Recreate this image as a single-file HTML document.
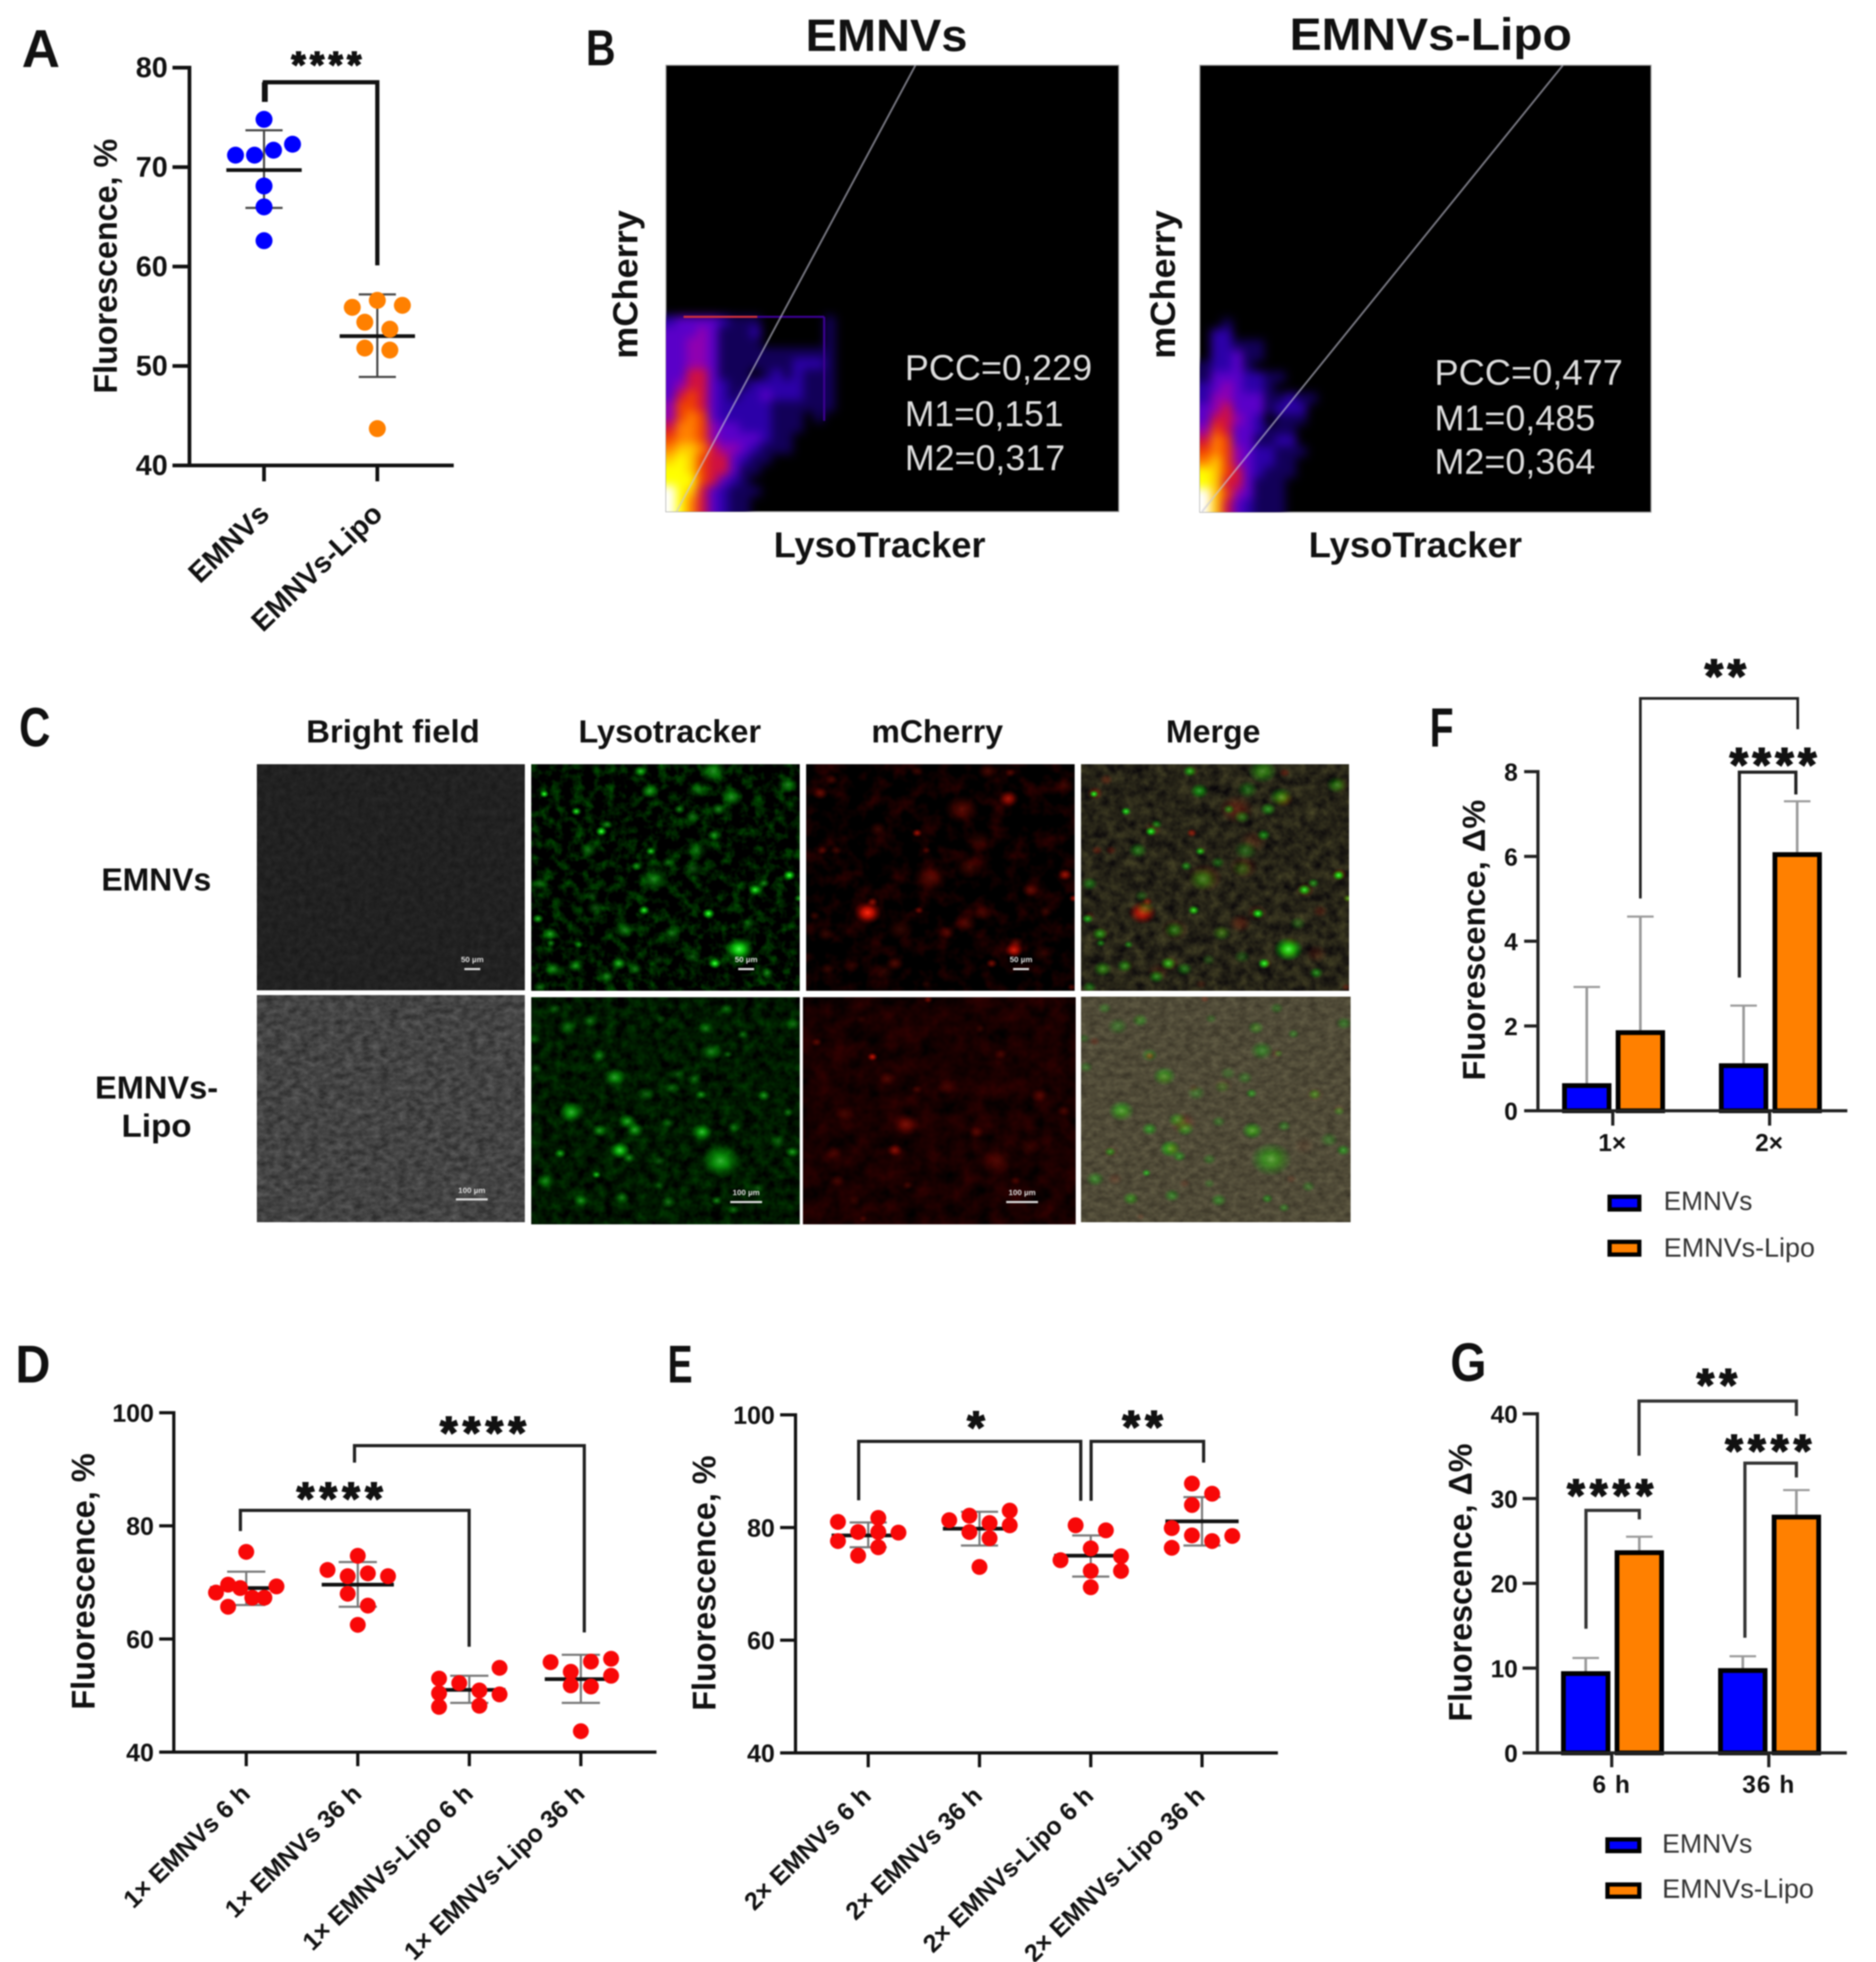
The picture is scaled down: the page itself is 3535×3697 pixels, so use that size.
<!DOCTYPE html>
<html lang="en">
<head>
<meta charset="utf-8">
<title>EMNVs and EMNVs-Lipo fluorescence figure</title>
<style>
html,body{margin:0;padding:0;background:#fff}
svg{display:block;filter:blur(1.2px)}
text{font-family:"Liberation Sans",Arial,sans-serif;fill:#111}
.b{font-weight:bold}
.l{fill:#333}
.w{fill:#ddd}
</style>
</head>
<body>
<svg id="figure" xmlns="http://www.w3.org/2000/svg" width="3535" height="3697" viewBox="0 0 3535 3697">
<defs>
<filter id="heat-blur" x="-10%" y="-10%" width="120%" height="120%" color-interpolation-filters="sRGB"><feGaussianBlur stdDeviation="9"/></filter>
<filter id="noise-green-top" x="0" y="0" width="1" height="1" color-interpolation-filters="sRGB"><feTurbulence type="fractalNoise" baseFrequency="0.05" numOctaves="3" seed="3"/><feColorMatrix values="0 0 0 0 0  0.7 0 0 0 -0.3  0 0 0 0 0  0 0 0 0 1"/></filter>
<filter id="noise-green-bottom" x="0" y="0" width="1" height="1" color-interpolation-filters="sRGB"><feTurbulence type="fractalNoise" baseFrequency="0.05" numOctaves="3" seed="8"/><feColorMatrix values="0 0 0 0 0  0.35 0 0 0 -0.08  0 0 0 0 0  0 0 0 0 1"/></filter>
<filter id="noise-red-top" x="0" y="0" width="1" height="1" color-interpolation-filters="sRGB"><feTurbulence type="fractalNoise" baseFrequency="0.03" numOctaves="3" seed="5"/><feColorMatrix values="0.4 0 0 0 -0.17  0 0 0 0 0  0 0 0 0 0  0 0 0 0 1"/></filter>
<filter id="noise-red-bottom" x="0" y="0" width="1" height="1" color-interpolation-filters="sRGB"><feTurbulence type="fractalNoise" baseFrequency="0.03" numOctaves="3" seed="11"/><feColorMatrix values="0.25 0 0 0 -0.03  0 0 0 0 0  0 0 0 0 0  0 0 0 0 1"/></filter>
<filter id="noise-gray-top" x="0" y="0" width="1" height="1" color-interpolation-filters="sRGB"><feTurbulence type="fractalNoise" baseFrequency="0.08" numOctaves="3" seed="2"/><feColorMatrix values="0.08 0 0 0 0.09  0.08 0 0 0 0.09  0.08 0 0 0 0.09  0 0 0 0 1"/></filter>
<filter id="noise-gray-bottom" x="0" y="0" width="1" height="1" color-interpolation-filters="sRGB"><feTurbulence type="fractalNoise" baseFrequency="0.06 0.09" numOctaves="3" seed="4"/><feColorMatrix values="0.25 0 0 0 0.14  0.25 0 0 0 0.14  0.25 0 0 0 0.14  0 0 0 0 1"/></filter>
<filter id="noise-merge-top" x="0" y="0" width="1" height="1" color-interpolation-filters="sRGB"><feTurbulence type="fractalNoise" baseFrequency="0.05" numOctaves="3" seed="7"/><feColorMatrix values="0.3 0 0 0 0  0.3 0 0 0 -0.01  0.14 0 0 0 0.02  0 0 0 0 1"/></filter>
<filter id="noise-merge-bottom" x="0" y="0" width="1" height="1" color-interpolation-filters="sRGB"><feTurbulence type="fractalNoise" baseFrequency="0.06 0.09" numOctaves="3" seed="9"/><feColorMatrix values="0.2 0 0 0 0.21  0.2 0 0 0 0.19  0.15 0 0 0 0.14  0 0 0 0 1"/></filter>
<radialGradient id="spot-green"><stop offset="0" stop-color="#50ff50"/><stop offset=".35" stop-color="#10e010" stop-opacity=".85"/><stop offset="1" stop-color="#00a000" stop-opacity="0"/></radialGradient>
<radialGradient id="spot-red"><stop offset="0" stop-color="#ff2a10"/><stop offset=".4" stop-color="#e01000" stop-opacity=".8"/><stop offset="1" stop-color="#900000" stop-opacity="0"/></radialGradient>
<clipPath id="clip-plot-1"><rect x="1255" y="123" width="853" height="841"/></clipPath>
<clipPath id="clip-plot-2"><rect x="2261" y="123" width="850" height="842"/></clipPath>
</defs>

<g>
<text class="b" x="41" y="126" font-size="100" textLength="72" lengthAdjust="spacingAndGlyphs">A</text>
<text class="b" x="1104" y="123" font-size="96" textLength="56" lengthAdjust="spacingAndGlyphs">B</text>
<text class="b" x="36" y="1406" font-size="104" textLength="59" lengthAdjust="spacingAndGlyphs">C</text>
<text class="b" x="29" y="2605" font-size="100" textLength="66" lengthAdjust="spacingAndGlyphs">D</text>
<text class="b" x="1258" y="2605" font-size="100" textLength="47" lengthAdjust="spacingAndGlyphs">E</text>
<text class="b" x="2694" y="1407" font-size="104" textLength="45" lengthAdjust="spacingAndGlyphs">F</text>
<text class="b" x="2733" y="2602" font-size="102" textLength="68" lengthAdjust="spacingAndGlyphs">G</text>
</g>

<g id="panel-a">
<text class="b" transform="translate(220,501.6) rotate(-90)" text-anchor="middle" font-size="62" textLength="480" lengthAdjust="spacingAndGlyphs">Fluorescence, %</text>
</g>

<g id="panel-b">
<text class="b" x="1518" y="96" font-size="85" textLength="305" lengthAdjust="spacingAndGlyphs">EMNVs</text>
<text class="b" x="2430" y="94" font-size="85" textLength="532" lengthAdjust="spacingAndGlyphs">EMNVs-Lipo</text>
<rect x="1255" y="123" width="853" height="841" fill="#000" stroke="#999" stroke-width="2"/>
<rect x="2261" y="123" width="850" height="842" fill="#000" stroke="#999" stroke-width="2"/>
<g clip-path="url(#clip-plot-1)"><g id="heat-1" filter="url(#heat-blur)"></g>
<line x1="1288" y1="597" x2="1427" y2="597" stroke="#d0303a" stroke-width="4"/>
<line x1="1427" y1="597" x2="1553" y2="597" stroke="#3a0090" stroke-width="4"/>
<line x1="1553" y1="597" x2="1553" y2="793" stroke="#3a0090" stroke-width="4"/>
</g>
<g clip-path="url(#clip-plot-2)"><g id="heat-2" filter="url(#heat-blur)"></g></g>
<line x1="1725" y1="123" x2="1275" y2="964" stroke="#c8c8d8" stroke-opacity=".6" stroke-width="3.5"/>
<line x1="2945" y1="123" x2="2265" y2="964" stroke="#c8c8d8" stroke-opacity=".6" stroke-width="3.5"/>
<g>
<text class="w" x="1705" y="716" font-size="68" textLength="353" lengthAdjust="spacingAndGlyphs">PCC=0,229</text>
<text class="w" x="1705" y="803" font-size="68" textLength="299" lengthAdjust="spacingAndGlyphs">M1=0,151</text>
<text class="w" x="1705" y="886" font-size="68" textLength="302" lengthAdjust="spacingAndGlyphs">M2=0,317</text>
</g>
<g>
<text class="w" x="2703" y="725" font-size="68" textLength="355" lengthAdjust="spacingAndGlyphs">PCC=0,477</text>
<text class="w" x="2703" y="811" font-size="68" textLength="303" lengthAdjust="spacingAndGlyphs">M1=0,485</text>
<text class="w" x="2703" y="893" font-size="68" textLength="303" lengthAdjust="spacingAndGlyphs">M2=0,364</text>
</g>
<text class="b" x="1458" y="1050" font-size="68" textLength="399" lengthAdjust="spacingAndGlyphs">LysoTracker</text>
<text class="b" x="2466" y="1050" font-size="68" textLength="402" lengthAdjust="spacingAndGlyphs">LysoTracker</text>
<text class="b" transform="translate(1201,536) rotate(-90)" text-anchor="middle" font-size="66" textLength="280" lengthAdjust="spacingAndGlyphs">mCherry</text>
<text class="b" transform="translate(2214,536) rotate(-90)" text-anchor="middle" font-size="66" textLength="280" lengthAdjust="spacingAndGlyphs">mCherry</text>
</g>

<g id="panel-c">
<text class="b" x="577" y="1399" font-size="60" textLength="327" lengthAdjust="spacingAndGlyphs">Bright field</text>
<text class="b" x="1090" y="1399" font-size="60" textLength="344" lengthAdjust="spacingAndGlyphs">Lysotracker</text>
<text class="b" x="1642" y="1399" font-size="60" textLength="248" lengthAdjust="spacingAndGlyphs">mCherry</text>
<text class="b" x="2197" y="1399" font-size="60" textLength="178" lengthAdjust="spacingAndGlyphs">Merge</text>
<text class="b" x="191" y="1678" font-size="60" textLength="207" lengthAdjust="spacingAndGlyphs">EMNVs</text>
<text class="b" x="179" y="2070" font-size="60" textLength="232" lengthAdjust="spacingAndGlyphs">EMNVs-</text>
<text class="b" x="229" y="2142" font-size="60" textLength="132" lengthAdjust="spacingAndGlyphs">Lipo</text>
<g id="micrographs"></g>
</g>

<g id="panel-d">
<text class="b" transform="translate(178,2980) rotate(-90)" text-anchor="middle" font-size="62" textLength="483" lengthAdjust="spacingAndGlyphs">Fluorescence, %</text>
</g>
<g id="panel-e">
<text class="b" transform="translate(1348,2983) rotate(-90)" text-anchor="middle" font-size="62" textLength="481" lengthAdjust="spacingAndGlyphs">Fluorescence, %</text>
</g>

<g id="panel-f">
<text class="b" transform="translate(2798,1771.5) rotate(-90)" text-anchor="middle" font-size="60" textLength="529" lengthAdjust="spacingAndGlyphs">Fluorescence, Δ%</text>
<g>
<rect x="3033" y="2255" width="56" height="24" fill="#0000ff" stroke="#000" stroke-width="8"/>
<text class="l" x="3135" y="2280" font-size="50" textLength="167" lengthAdjust="spacingAndGlyphs">EMNVs</text>
<rect x="3033" y="2340" width="56" height="24" fill="#ff8000" stroke="#000" stroke-width="8"/>
<text class="l" x="3135" y="2368" font-size="50" textLength="285" lengthAdjust="spacingAndGlyphs">EMNVs-Lipo</text>
</g>
</g>

<g id="panel-g">
<text class="b" transform="translate(2773,2982) rotate(-90)" text-anchor="middle" font-size="62" textLength="524" lengthAdjust="spacingAndGlyphs">Fluorescence, Δ%</text>
<g>
<rect x="3029" y="3466" width="60" height="22" fill="#0000ff" stroke="#000" stroke-width="8"/>
<text class="l" x="3132" y="3491" font-size="50" textLength="170" lengthAdjust="spacingAndGlyphs">EMNVs</text>
<rect x="3029" y="3551" width="60" height="23" fill="#ff8000" stroke="#000" stroke-width="8"/>
<text class="l" x="3132" y="3576" font-size="50" textLength="286" lengthAdjust="spacingAndGlyphs">EMNVs-Lipo</text>
</g>
</g>
</svg>

<script>
// ---------- Panel A data ----------
const aCategories = ['EMNVs', 'EMNVs-Lipo'];
const aTicks = [40, 50, 60, 70, 80];
const aEmnvsValues = [74.8, 71.2, 71.2, 71.7, 72.3, 68.1, 66.0, 62.6];
const aEmnvsSlots = [0, -3, -1, 1, 3, 0, 0, 0];
const aLipoValues = [55.9, 56.6, 56.1, 54.4, 53.7, 51.8, 51.6, 43.7];
const aLipoSlots = [-2, 0, 2, -1, 1, -1, 1, 0];
const aMeans = [69.7, 53.0];
const aSdHigh = [73.7, 57.2];
const aSdLow = [65.9, 48.9];

// ---------- Panel D data ----------
const dCategories = ['1× EMNVs 6 h', '1× EMNVs 36 h', '1× EMNVs-Lipo 6 h', '1× EMNVs-Lipo 36 h'];
const dTicks = [40, 60, 80, 100];
const dValues1 = [75.4, 68.2, 69.6, 69.0, 69.3, 67.3, 67.3, 65.7];
const dSlots1 = [0, -3, -1.8, -0.6, 3, 0.6, 1.8, -1.8];
const dValues2 = [74.7, 72.2, 71.1, 71.6, 71.1, 68.0, 65.9, 62.5];
const dSlots2 = [0, -3, -1, 1, 3, -1, 1, 0];
const dValues3 = [53.0, 52.2, 54.9, 50.4, 50.9, 50.2, 48.0, 48.2];
const dSlots3 = [-3, -1, 3, -3, 1, 3, -3, 1];
const dValues4 = [55.9, 56.0, 56.5, 54.2, 53.5, 51.8, 51.6, 43.7];
const dSlots4 = [-3, 1, 3, -1, 3, -1, 1, 0];
const dMeans = [69.0, 69.6, 51.0, 52.9];
const dSdHigh = [71.9, 73.6, 53.5, 57.2];
const dSdLow = [66.0, 65.7, 48.7, 48.7];

// ---------- Panel E data ----------
const eCategories = ['2× EMNVs 6 h', '2× EMNVs 36 h', '2× EMNVs-Lipo 6 h', '2× EMNVs-Lipo 36 h'];
const eTicks = [40, 60, 80, 100];
const eValues1 = [81.0, 81.7, 79.2, 79.2, 79.1, 77.6, 76.5, 75.0];
const eSlots1 = [-3, 1, -1, 1, 3, -3, 1, -1];
const eValues2 = [81.3, 82.1, 83.0, 80.8, 80.4, 79.2, 78.1, 73.0];
const eSlots2 = [-3, -1, 3, 1, 3, -1, 1, 0];
const eValues3 = [80.4, 79.5, 76.3, 74.2, 74.9, 72.3, 72.3, 69.4];
const eSlots3 = [-1.5, 1.5, 0, -3, 3, 0, 3, 0];
const eValues4 = [87.8, 86.0, 84.0, 79.9, 78.6, 78.5, 77.6, 76.4];
const eSlots4 = [-1, 1, -1, -3, -1, 3, 1, -3];
const eMeans = [78.6, 79.8, 75.0, 81.1];
const eSdHigh = [80.9, 82.8, 78.6, 85.4];
const eSdLow = [76.5, 76.8, 71.3, 76.8];

// ---------- Panel F data ----------
const fCategories = ['1×', '2×'];
const fTicks = [0, 2, 4, 6, 8];
const fEmnvs = [0.65, 1.12];
const fLipo = [1.9, 6.1];
const fEmnvsErrorTop = [2.92, 2.48];
const fLipoErrorTop = [4.58, 7.3];

// ---------- Panel G data ----------
const gCategories = ['6 h', '36 h'];
const gTicks = [0, 10, 20, 30, 40];
const gEmnvs = [9.64, 10.0];
const gLipo = [23.9, 28.1];
const gEmnvsErrorTop = [11.2, 11.4];
const gLipoErrorTop = [25.5, 31.0];

// ---------- Panel B density grids (0 = empty, 10 = saturated), top row first ----------
const plot1Density = [
[2,3,3,3,3,2,1,1,1,0,0,0,0,0,0,1],
[3,3,3,4,3,1,1,1,2,0,0,0,0,0,0,1],
[3,3,4,4,3,1,1,1,1,0,0,0,0,0,0,1],
[3,3,4,4,3,1,1,1,1,1,1,1,1,1,1,1],
[3,3,4,4,3,1,1,1,1,1,1,1,2,2,2,1],
[3,3,5,5,3,1,1,1,0,1,2,1,2,1,1,1],
[3,4,5,5,3,2,1,1,2,2,2,2,2,1,1,1],
[3,5,6,5,3,2,1,2,2,3,2,2,2,1,1,1],
[4,6,6,5,3,2,2,2,2,2,1,1,1,1,1,1],
[4,6,7,6,3,2,2,2,2,2,1,1,1,0,1,0],
[5,7,7,6,4,3,3,2,2,2,1,1,1,0,0,0],
[6,7,7,6,4,3,3,3,3,2,1,1,0,0,0,0],
[7,8,8,7,5,4,4,3,2,1,1,1,0,0,0,0],
[8,9,8,6,5,5,3,2,1,1,0,0,0,0,0,0],
[9,9,8,6,5,5,3,1,1,0,0,0,0,0,0,0],
[9,9,9,6,5,3,2,1,0,0,0,0,0,0,0,0],
[10,9,8,5,3,2,1,1,1,0,0,0,0,0,0,0],
[10,9,7,5,3,2,1,1,0,0,0,0,0,0,0,0]
];
const plot2Density = [
[0,0,1,0,0,0,0,0,0,0,0],
[0,2,2,0,0,0,0,0,0,0,0],
[0,2,2,1,1,1,0,0,0,0,0],
[0,2,2,3,1,1,0,0,0,0,0],
[1,2,2,3,1,0,0,0,0,0,0],
[1,3,3,3,2,2,1,1,0,0,0],
[2,3,4,3,2,2,1,0,0,0,0],
[2,4,4,3,3,3,1,1,2,1,1],
[3,4,5,3,3,3,1,2,2,2,0],
[3,5,5,4,3,2,0,1,1,1,0],
[4,6,5,3,3,2,1,1,1,0,0],
[5,7,6,3,3,1,1,2,2,0,0],
[6,7,6,4,3,2,2,1,1,1,0],
[7,8,6,4,3,2,2,1,1,0,0],
[9,8,6,5,3,2,1,1,1,0,0],
[9,8,5,5,3,1,1,1,0,0,0],
[10,8,6,4,3,1,1,1,0,0,0],
[10,8,5,3,2,1,1,1,0,0,0]
];
const fireLut = ['#000000','#120058','#2c00a8','#5a00c8','#9000b0','#d01040','#f04000','#ff8000','#ffc800','#ffff00','#ffffff'];

// ---------- Panel C fluorescent spots [x, y, size, brightness] in each source frame ----------
const lysoTopSpots = [[792,115,8,1],[878,172,9,.9],[945,238,10,1],[960,215,10,.5],[1050,40,12,.7],[1245,40,25,.5],[1075,105,16,.6],[1205,100,18,.35],[1295,125,20,.55],[1260,165,14,.5],[1155,165,10,.5],[1190,190,14,.4],[1445,85,18,.45],[1248,250,12,.55],[1078,303,9,.8],[910,300,16,.4],[1040,352,10,.5],[1125,340,12,.35],[1085,395,25,.45],[1190,360,18,.3],[1450,382,11,1],[1358,430,12,.9],[1382,408,10,.5],[780,410,14,.4],[1475,458,8,.6],[1060,497,10,.9],[1233,508,11,1],[775,525,10,.7],[930,490,16,.3],[1008,562,18,.45],[1135,572,16,.4],[808,575,14,.6],[810,605,8,.5],[885,610,8,.5],[1315,625,25,1],[1250,672,11,1],[992,672,14,.7],[875,680,14,.5],[815,690,16,.5],[960,715,14,.5],[1035,690,14,.4],[1390,703,12,.5],[1190,650,14,.25],[1340,540,14,.25],[1100,660,12,.2],[1200,300,20,.3],[780,750,12,.4],[920,450,12,.25]];
const lysoBottomSpots = [[820,820,12,.25],[915,860,14,.35],[855,880,18,.25],[1105,855,10,.2],[1225,885,14,.35],[1280,820,12,.25],[1325,905,10,.3],[1460,870,14,.3],[765,920,10,.2],[940,975,14,.35],[1240,960,20,.35],[1285,970,8,.3],[770,1015,12,.25],[980,1045,20,.5],[1150,1035,14,.2],[1195,1050,14,.25],[1065,1100,16,.25],[1135,1080,14,.25],[1213,1102,10,.45],[1382,1105,12,.45],[865,1160,22,.55],[1447,1160,10,.35],[1015,1190,16,.5],[1035,1218,16,.5],[940,1220,14,.45],[1125,1195,12,.25],[1215,1225,18,.6],[1300,1210,12,.3],[995,1285,18,.7],[835,1295,10,.5],[1020,1310,12,.4],[1265,1320,35,.55],[1458,1290,12,.45],[1420,1255,16,.25],[932,1365,8,.6],[795,1385,16,.35],[890,1450,14,.45],[1000,1440,14,.35],[1125,1455,14,.35],[1255,1450,10,.4],[1300,1480,10,.3],[1100,1320,12,.25],[1365,1410,12,.25],[1100,1400,10,.2]];
const cherryTopSpots = [[65,112,14,.4],[95,68,12,.25],[325,40,12,.2],[515,40,18,.25],[575,45,10,.3],[570,130,18,.6],[445,165,30,.3],[720,85,18,.2],[220,230,16,.2],[325,243,9,.6],[70,300,10,.3],[108,300,10,.25],[350,300,8,.25],[490,270,25,.15],[360,390,30,.3],[465,355,25,.22],[722,380,13,.6],[630,430,16,.35],[745,458,8,.6],[192,505,24,1],[205,470,10,.5],[330,497,8,.4],[500,505,18,.2],[455,540,20,.25],[280,560,24,.18],[405,570,14,.25],[80,575,16,.2],[585,628,16,.8],[590,605,14,.3],[525,672,10,.45],[265,672,16,.3],[85,690,14,.2],[150,680,14,.15],[235,700,20,.15],[660,640,20,.15],[50,515,10,.2],[740,750,8,.3],[350,740,10,.15],[670,500,14,.2]];
const cherryBottomSpots = [[55,930,10,.3],[205,978,9,.7],[175,855,10,.1],[495,885,10,.15],[550,970,12,.2],[355,790,8,.4],[245,1050,16,.25],[405,1075,18,.15],[655,1105,16,.25],[325,1085,10,.2],[130,1165,18,.2],[720,1155,12,.2],[295,1200,24,.4],[485,1225,14,.25],[265,1285,14,.45],[100,1295,16,.15],[540,1320,30,.2],[625,1275,20,.1],[110,1385,14,.2],[300,1400,10,.2],[590,1385,10,.2],[155,1450,14,.12],[180,1510,8,.2]];
const scaleBarLabels = ['50 µm', '100 µm'];

// ---------- Helpers ----------
const NS = 'http://www.w3.org/2000/svg';
function linear(d0, d1, r0, r1) { return v => r0 + (v - d0) * (r1 - r0) / (d1 - d0); }
function mk(parent, tag, attrs) {
  const n = document.createElementNS(NS, tag);
  for (const k in attrs) n.setAttribute(k, attrs[k]);
  parent.appendChild(n);
  return n;
}
function seg(parent, name, x1, y1, x2, y2, w, color) {
  const n = mk(parent, 'line', { x1, y1, x2, y2, stroke: color, 'stroke-width': w });
  
  
  return n;
}
function label(parent, name, str, x, y, size, anchor, extra) {
  const n = mk(parent, 'text', Object.assign({ x, y, 'font-size': size, 'text-anchor': anchor, 'font-weight': 'bold' }, extra || {}));
  n.textContent = str;
  
  
  return n;
}
function stars(parent, name, str, cx, cy, size, spacing) {
  const n = str.length;
  const adv = size * 0.389;
  const xs = [];
  for (let i = 0; i < n; i++) xs.push(cx + (i - (n - 1) / 2) * spacing - adv / 2);
  const t = mk(parent, 'text', { x: xs.join(' '), y: cy + size * 0.55 - 5, 'font-size': size, 'font-weight': 'bold', stroke: '#111', 'stroke-width': 3 });
  t.textContent = str;
  
  
}
function bracket(parent, name, xl, xr, yt, yl, yr, w, color) {
  const n = mk(parent, 'path', { d: `M${xl} ${yl}V${yt}H${xr}V${yr}`, fill: 'none', stroke: color, 'stroke-width': w });
  
  
}
function axes(g, prefix, c) {
  const color = c.color || '#111';
  seg(g, prefix + '-y-axis', c.axisX, c.y(c.ticks[c.ticks.length - 1]) - c.w / 2, c.axisX, c.y(c.ticks[0]) + c.w / 2, c.w, color);
  seg(g, prefix + '-x-axis', c.axisX, c.y(c.ticks[0]), c.axisEnd, c.y(c.ticks[0]), c.w, color);
  c.ticks.forEach(t => {
    seg(g, prefix + '-y-tick-' + t, c.tickLeft, c.y(t), c.axisX, c.y(t), c.w, color);
    label(g, prefix + '-y-tick-label-' + t, String(t), c.labelRight, c.y(t) + c.labelDy, c.labelSize, 'end');
  });
  c.categories.forEach((cat, i) => {
    seg(g, prefix + '-x-tick-' + (i + 1), c.x(i), c.y(c.ticks[0]), c.x(i), c.tickBottom, c.w, color);
  });
}
function rotatedLabels(g, prefix, c) {
  c.categories.forEach((cat, i) => {
    const t = label(g, prefix + '-x-tick-label-' + (i + 1), cat, 0, 0, c.catSize, 'end', { transform: `translate(${c.x(i) + c.catDx},${c.catY}) rotate(-44)` });
    t.removeAttribute('x');
    t.removeAttribute('y');
  });
}
function swarm(g, prefix, c, groups) {
  groups.forEach((grp, i) => {
    const cx = c.x(i);
    seg(g, prefix + '-error-stem-' + (i + 1), cx, c.y(c.sdHigh[i]), cx, c.y(c.sdLow[i]), c.errW, c.errColor);
    seg(g, prefix + '-error-cap-high-' + (i + 1), cx - c.capHalf, c.y(c.sdHigh[i]), cx + c.capHalf, c.y(c.sdHigh[i]), c.errW, c.errColor);
    seg(g, prefix + '-error-cap-low-' + (i + 1), cx - c.capHalf, c.y(c.sdLow[i]), cx + c.capHalf, c.y(c.sdLow[i]), c.errW, c.errColor);
    seg(g, prefix + '-mean-' + (i + 1), cx - c.meanHalf, c.y(c.means[i]), cx + c.meanHalf, c.y(c.means[i]), 7, '#111');
    grp.values.forEach((v, k) => {
      const d = mk(g, 'circle', { cx: cx + grp.slots[k] * grp.slotWidth, cy: c.y(v), r: c.r, fill: grp.color });
      
      
    });
  });
}
function bars(g, prefix, c) {
  c.categories.forEach((cat, i) => {
    const cx = c.x(i);
    [[c.emnvs, c.emnvsTop, '#0000ff', -49, 'emnvs'], [c.lipo, c.lipoTop, '#ff8000', 52, 'lipo']].forEach(s => {
      const bx = cx + s[3];
      const yv = c.y(s[0][i]);
      const ye = c.y(s[1][i]);
      seg(g, prefix + '-error-stem-' + s[4] + '-' + (i + 1), bx, ye, bx, yv, 5, '#9a9a9a');
      seg(g, prefix + '-error-cap-' + s[4] + '-' + (i + 1), bx - 25, ye, bx + 25, ye, 4, '#9a9a9a');
      const r = mk(g, 'rect', { x: bx - 42, y: yv + 4.5, width: 84, height: Math.max(0, c.y(0) - yv - 4.5), fill: s[2], stroke: '#000', 'stroke-width': 9 });
      
      
    });
  });
}

// ---------- Panel A ----------
const panelA = document.getElementById('panel-a');
const cfgA = { y: linear(40, 80, 877, 127.5), x: linear(0, 1, 497.5, 711), ticks: aTicks, categories: aCategories, axisX: 357, axisEnd: 855, tickLeft: 325, tickBottom: 907, w: 7, labelRight: 316, labelDy: 18, labelSize: 54, catSize: 54, catDx: 13, catY: 972, means: aMeans, sdHigh: aSdHigh, sdLow: aSdLow, capHalf: 35, meanHalf: 71, errW: 4, errColor: '#444', r: 16 };
axes(panelA, 'panel-a', cfgA);
rotatedLabels(panelA, 'panel-a', cfgA);
swarm(panelA, 'panel-a', cfgA, [
  { values: aEmnvsValues, slots: aEmnvsSlots, slotWidth: 17.9, color: '#0000ff' },
  { values: aLipoValues, slots: aLipoSlots, slotWidth: 23.6, color: '#ff8000' }
]);
bracket(panelA, 'panel-a-significance-bracket', 499, 711, 155, 190, 500, 8, '#111');
seg(panelA, 'panel-a-bracket-left-leg', 499, 155, 499, 192, 11, '#111');
stars(panelA, 'panel-a-significance-stars', '****', 615, 112, 68, 35);

// ---------- Panel D ----------
const panelD = document.getElementById('panel-d');
const cfgD = { y: linear(40, 100, 3301.5, 2662), x: linear(0, 3, 464, 1094.5), ticks: dTicks, categories: dCategories, axisX: 327.5, axisEnd: 1237, tickLeft: 300, tickBottom: 3328, w: 6, labelRight: 290, labelDy: 17, labelSize: 47, catSize: 47, catDx: 10, catY: 3383, means: dMeans, sdHigh: dSdHigh, sdLow: dSdLow, capHalf: 36, meanHalf: 68, errW: 4, errColor: '#777', r: 15 };
axes(panelD, 'panel-d', cfgD);
rotatedLabels(panelD, 'panel-d', cfgD);
swarm(panelD, 'panel-d', cfgD, [
  { values: dValues1, slots: dSlots1, slotWidth: 19, color: '#f80808' },
  { values: dValues2, slots: dSlots2, slotWidth: 19, color: '#f80808' },
  { values: dValues3, slots: dSlots3, slotWidth: 19, color: '#f80808' },
  { values: dValues4, slots: dSlots4, slotWidth: 19, color: '#f80808' }
]);
bracket(panelD, 'panel-d-bracket-6h', 453, 884, 2846, 2885, 3103, 6, '#222');
stars(panelD, 'panel-d-stars-6h', '****', 640, 2811, 84, 43);
bracket(panelD, 'panel-d-bracket-36h', 668, 1101, 2724, 2756, 3076, 6, '#222');
stars(panelD, 'panel-d-stars-36h', '****', 910, 2687, 84, 43);

// ---------- Panel E ----------
const panelE = document.getElementById('panel-e');
const cfgE = { y: linear(40, 100, 3303, 2666), x: linear(0, 3, 1636, 2265), ticks: eTicks, categories: eCategories, axisX: 1499, axisEnd: 2408, tickLeft: 1470, tickBottom: 3330, w: 6, labelRight: 1460, labelDy: 17, labelSize: 47, catSize: 47, catDx: 8, catY: 3387, means: eMeans, sdHigh: eSdHigh, sdLow: eSdLow, capHalf: 35, meanHalf: 69, errW: 4, errColor: '#777', r: 15 };
axes(panelE, 'panel-e', cfgE);
rotatedLabels(panelE, 'panel-e', cfgE);
swarm(panelE, 'panel-e', cfgE, [
  { values: eValues1, slots: eSlots1, slotWidth: 19, color: '#f80808' },
  { values: eValues2, slots: eSlots2, slotWidth: 19, color: '#f80808' },
  { values: eValues3, slots: eSlots3, slotWidth: 19, color: '#f80808' },
  { values: eValues4, slots: eSlots4, slotWidth: 19, color: '#f80808' }
]);
bracket(panelE, 'panel-e-bracket-left', 1618, 2036.5, 2716, 2827, 2828, 6, '#222');
stars(panelE, 'panel-e-stars-left', '*', 1839, 2677, 84, 43);
bracket(panelE, 'panel-e-bracket-right', 2056, 2268, 2716, 2828, 2756, 6, '#222');
stars(panelE, 'panel-e-stars-right', '**', 2153, 2676, 84, 43);

// ---------- Panel F ----------
const panelF = document.getElementById('panel-f');
const cfgF = { y: linear(0, 8, 2093, 1454), x: linear(0, 1, 3039, 3334.5), ticks: fTicks, categories: fCategories, axisX: 2898, axisEnd: 3481, tickLeft: 2872, tickBottom: 2121, w: 6, color: '#222', labelRight: 2860, labelDy: 17, labelSize: 46, emnvs: fEmnvs, lipo: fLipo, emnvsTop: fEmnvsErrorTop, lipoTop: fLipoErrorTop };
bars(panelF, 'panel-f', cfgF);
axes(panelF, 'panel-f', cfgF);
fCategories.forEach((cat, i) => {
  label(panelF, 'panel-f-x-tick-label-' + (i + 1), cat, cfgF.x(i) - 1, 2169, 46, 'middle');
});
bracket(panelF, 'panel-f-bracket-between', 3091, 3387.5, 1316, 1693, 1374, 5, '#222');
stars(panelF, 'panel-f-stars-between', '**', 3251, 1260, 88, 43);
bracket(panelF, 'panel-f-bracket-2x', 3277.5, 3384, 1455, 1842, 1497, 6, '#222');
stars(panelF, 'panel-f-stars-2x', '****', 3341, 1427, 88, 43);

// ---------- Panel G ----------
const panelG = document.getElementById('panel-g');
const cfgG = { y: linear(0, 40, 3303, 2664), x: linear(0, 1, 3037, 3333), ticks: gTicks, categories: gCategories, axisX: 2897, axisEnd: 3480, tickLeft: 2869, tickBottom: 3330, w: 6, color: '#222', labelRight: 2860, labelDy: 17, labelSize: 46, emnvs: gEmnvs, lipo: gLipo, emnvsTop: gEmnvsErrorTop, lipoTop: gLipoErrorTop };
bars(panelG, 'panel-g', cfgG);
axes(panelG, 'panel-g', cfgG);
gCategories.forEach((cat, i) => {
  label(panelG, 'panel-g-x-tick-label-' + (i + 1), cat, cfgG.x(i), 3378, 46, 'middle', { 'letter-spacing': 2 });
});
bracket(panelG, 'panel-g-bracket-between', 3088.5, 3385, 2640, 2743, 2668, 6, '#333');
stars(panelG, 'panel-g-stars-between', '**', 3235, 2597, 84, 43);
bracket(panelG, 'panel-g-bracket-6h', 2988.5, 3089, 2846, 3069, 2863, 6, '#333');
stars(panelG, 'panel-g-stars-6h', '****', 3034, 2805, 84, 43);
bracket(panelG, 'panel-g-bracket-36h', 3288, 3385, 2757, 3086, 2784, 6, '#333');
stars(panelG, 'panel-g-stars-36h', '****', 3332, 2721, 84, 43);

// ---------- Panel B density ----------
function density(group, grid, x0, y0, cell, prefix) {
  grid.forEach((row, r) => {
    row.forEach((v, c) => {
      if (v === 0) return;
      const ext = c === 0 ? 40 : 0;
      const extB = r === grid.length - 1 ? 40 : 0;
      const cellRect = mk(group, 'rect', { x: x0 + c * cell - ext, y: y0 + r * cell, width: cell + ext + 0.5, height: cell + extB + 0.5, fill: fireLut[v] });
      
      
    });
  });
}
density(document.getElementById('heat-1'), plot1Density, 1253.3, 595, 20, 'plot-1-density');
density(document.getElementById('heat-2'), plot2Density, 2261.7, 600, 20, 'plot-2-density');

// ---------- Panel C micrographs ----------
const micro = document.getElementById('micrographs');
const SRC_LYSO_TOP = [757, 17, 721, 745], SRC_LYSO_BOTTOM = [757, 782, 721, 746];
const SRC_RED_TOP = [27, 17, 721, 745], SRC_RED_BOTTOM = [18, 782, 734, 746];
function spots(g, list, src, box, grad, gain, prefix) {
  list.forEach(s => {
    const sx = box[2] / src[2], sy = box[3] / src[3];
    const sp = mk(g, 'ellipse', { cx: box[0] + (s[0] - src[0]) * sx, cy: box[1] + (s[1] - src[1]) * sy, rx: s[2] * 1.6 * sx, ry: s[2] * 1.6 * sy, fill: `url(#${grad})`, opacity: Math.min(1, s[3] * gain) });
    
    
  });
}
function panelImage(name, box, filter, layers) {
  const cp = mk(micro, 'clipPath', { id: 'clip-' + name });
  mk(cp, 'rect', { x: box[0], y: box[1], width: box[2], height: box[3] });
  const g = mk(micro, 'g', { 'clip-path': `url(#clip-${name})` });
  
  
  const bg = mk(g, 'rect', { x: box[0], y: box[1], width: box[2], height: box[3], filter: `url(#${filter})` });
  
  
  layers.forEach(l => spots(g, l.list, l.src, box, l.grad, l.gain, name));
}
panelImage('brightfield-emnvs', [484, 1440, 505, 426], 'noise-gray-top', []);
panelImage('lysotracker-emnvs', [1001, 1440, 506, 427], 'noise-green-top', [{ list: lysoTopSpots, src: SRC_LYSO_TOP, grad: 'spot-green', gain: 1 }]);
panelImage('mcherry-emnvs', [1519, 1440, 506, 427], 'noise-red-top', [{ list: cherryTopSpots, src: SRC_RED_TOP, grad: 'spot-red', gain: 1 }]);
panelImage('merge-emnvs', [2037, 1440, 505, 427], 'noise-merge-top', [
  { list: cherryTopSpots, src: SRC_RED_TOP, grad: 'spot-red', gain: .8 },
  { list: lysoTopSpots, src: SRC_LYSO_TOP, grad: 'spot-green', gain: .95 }
]);
panelImage('brightfield-emnvs-lipo', [484, 1875, 505, 428], 'noise-gray-bottom', []);
panelImage('lysotracker-emnvs-lipo', [1001, 1879, 506, 428], 'noise-green-bottom', [{ list: lysoBottomSpots, src: SRC_LYSO_BOTTOM, grad: 'spot-green', gain: 1.2 }]);
panelImage('mcherry-emnvs-lipo', [1513, 1879, 514, 428], 'noise-red-bottom', [{ list: cherryBottomSpots, src: SRC_RED_BOTTOM, grad: 'spot-red', gain: 1 }]);
panelImage('merge-emnvs-lipo', [2037, 1878, 508, 425], 'noise-merge-bottom', [
  { list: lysoBottomSpots, src: SRC_LYSO_BOTTOM, grad: 'spot-green', gain: 1 },
  { list: cherryBottomSpots, src: SRC_RED_BOTTOM, grad: 'spot-red', gain: .5 }
]);
[[890, 1813, 1826, 30, 0], [1406, 1813, 1826, 30, 0], [1924, 1813, 1826, 30, 0], [889, 2248, 2260, 60, 1], [1406, 2252, 2265, 60, 1], [1926, 2252, 2265, 60, 1]].forEach((b, i) => {
  const t = label(micro, 'scale-bar-label-' + (i + 1), scaleBarLabels[b[4]], b[0], b[1], 15, 'middle');
  t.setAttribute('style', 'fill:#ddd');
  seg(micro, 'scale-bar-' + (i + 1), b[0] - b[3] / 2, b[2], b[0] + b[3] / 2, b[2], 4, '#ddd');
});
</script>
</body>
</html>
